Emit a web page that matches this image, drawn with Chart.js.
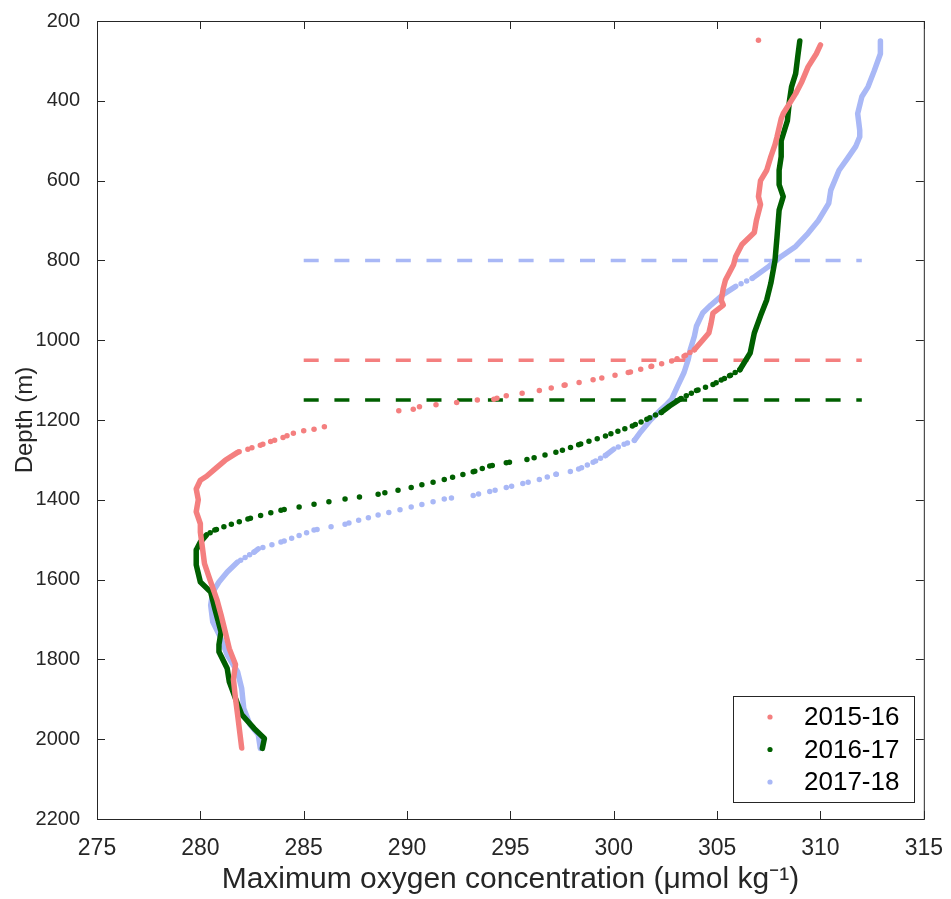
<!DOCTYPE html>
<html>
<head>
<meta charset="utf-8">
<script src="https://cdn.jsdelivr.net/npm/chart.js@4.4.1/dist/chart.umd.min.js"></script>
<style>
  html, body { margin: 0; padding: 0; background: #fff; }
  #wrap { width: 951px; height: 899px; }
</style>
</head>
<body>
<div id="wrap"><canvas id="myChart" width="951" height="899"></canvas></div>
<script>
// depth (m) and max oxygen (umol/kg); null oxygen = gap in the profile
let seasons = ['2015-16', '2016-17', '2017-18'];
let colorHex = ['#f47f7f', '#005f00', '#a9b8f6'];

let depth1516 = [248, 253, 255, 260, 282, 315, 352, 382, 407, 432, 445, 490, 510, 540, 574, 600, 640, 660, 700, 730, 740, 760, 790, 810, 850, 870, 900, 912, 932, 960, 982, 1000, 1024, 1040, 1052, 1066, 1081, 1099, 1113, 1126, 1139, 1148, 1150, 1156, 1162, 1167, 1173, 1177, 1183, 1200, 1217, 1223, 1227, 1233, 1244, 1254, 1263, 1273, 1281, 1301, 1323, 1341, 1351, 1373, 1400, 1430, 1460, 1481, 1520, 1560, 1606, 1650, 1688, 1730, 1773, 1813, 1850, 1898, 1938, 1980, 2022];
let oxy1516 = [307.0, 307.2, null, 310.0, 309.8, 309.4, 309.1, 308.8, 308.5, 308.2, 308.1, 307.9, 307.8, 307.6, 307.4, 307.1, 307.0, 307.1, 306.9, 306.8, 306.6, 306.2, 305.9, 305.8, 305.4, 305.3, 305.2, 305.3, 304.8, 304.7, 304.6, 304.3, 303.9, 303.4, 302.8, 301.8, 300.7, 299.0, 297.6, 296.4, 294.8, 294.2, 293.4, 292.4, 291.4, 290.6, 290.3, 289.6, 288.9, null, 286.0, 285.5, 285.0, 284.5, 284.0, 283.4, 282.9, 282.3, 281.8, 281.2, 280.7, 280.3, 280.0, 279.8, 279.9, 279.8, 280.0, 280.0, 280.1, 280.2, 280.5, 280.8, 281.0, 281.2, 281.4, 281.7, 281.6, 281.7, 281.8, 281.9, 282.0];

let depth1617 = [250, 290, 332, 365, 400, 450, 500, 540, 574, 610, 640, 674, 740, 800, 857, 899, 939, 982, 1007, 1032, 1057, 1074, 1089, 1100, 1111, 1126, 1148, 1165, 1181, 1198, 1215, 1228, 1240, 1262, 1281, 1299, 1307, 1315, 1330, 1349, 1369, 1386, 1398, 1411, 1426, 1448, 1461, 1476, 1488, 1506, 1526, 1563, 1606, 1631, 1673, 1731, 1763, 1781, 1823, 1856, 1898, 1938, 1973, 1998, 2023];
let oxy1617 = [309.0, 308.9, 308.8, 308.6, 308.5, 308.4, 308.1, 308.1, 308.0, 308.0, 308.2, 308.0, 307.9, 307.8, 307.6, 307.4, 307.1, 306.8, 306.7, 306.6, 306.3, 306.1, 305.6, 305.2, 304.8, 304.0, 303.2, 302.7, 302.3, 301.6, 300.9, 300.2, 299.6, 298.3, 297.2, 295.8, 294.8, 294.0, 293.2, 291.8, 290.2, 288.6, 287.0, 285.5, 283.9, 282.3, 281.5, 280.7, 280.3, 280.0, 279.8, 279.8, 280.0, 280.5, 280.7, 281.0, 280.9, 280.9, 281.3, 281.4, 281.7, 282.0, 282.6, 283.1, 283.0];

let depth1718 = [250, 282, 325, 365, 390, 432, 474, 490, 515, 545, 574, 624, 657, 700, 732, 765, 790, 815, 845, 865, 885, 912, 932, 965, 990, 1024, 1049, 1081, 1114, 1148, 1164, 1173, 1199, 1230, 1251, 1261, 1273, 1289, 1306, 1323, 1329, 1336, 1349, 1359, 1369, 1379, 1389, 1398, 1418, 1438, 1461, 1476, 1506, 1523, 1531, 1556, 1581, 1606, 1631, 1664, 1706, 1748, 1789, 1831, 1873, 1923, 1963, 1988, 2023];
let oxy1718 = [312.9, 312.9, 312.6, 312.3, 312.0, 311.8, 311.9, 311.9, 311.7, 311.3, 310.9, 310.5, 310.4, 309.9, 309.4, 308.8, 308.1, 307.5, 306.7, 305.9, 305.3, 304.7, 304.3, 304.0, 303.9, 303.7, 303.6, 303.4, 303.1, 302.8, 302.5, 302.3, 301.8, 301.3, 301.0, 300.5, 300.0, 299.6, 299.0, 298.3, 297.9, 297.2, 296.4, 295.6, 294.8, 294.0, 293.2, 291.8, 290.2, 288.6, 287.0, 285.5, 283.9, 282.8, 282.6, 281.8, 281.3, 280.9, 280.6, 280.5, 280.6, 281.0, 281.3, 281.8, 282.0, 282.1, 282.4, 282.8, 282.9];

// threshold depths drawn as dashed lines
let cutDepths = [1050, 1150, 800];
let cutRange = [285, 312];

let xTicks = [275, 280, 285, 290, 295, 300, 305, 310, 315];
let yTicks = [200, 400, 600, 800, 1000, 1200, 1400, 1600, 1800, 2000, 2200];

const axisColor = '#262626';
const narrow = '"Liberation Sans Narrow", "Liberation Sans", Arial, sans-serif';
const sans = '"Liberation Sans", Arial, sans-serif';

function toPoints(depths, oxy) {
  return depths.map((d, i) => ({ x: oxy[i], y: d }));
}

// profiles are sampled every few metres, so dots get spread out where the curve goes flat
function dotDash(ctx) {
  let dx = ctx.p1.x - ctx.p0.x;
  let dy = ctx.p1.y - ctx.p0.y;
  let len = Math.hypot(dx, dy);
  let gap = 2.7 * len / Math.max(Math.abs(dy), 0.01);
  if (gap < 5) return undefined;
  return [0, gap];
}

function profile(label, depths, oxy, color) {
  return {
    label: label,
    data: toPoints(depths, oxy),
    showLine: true,
    borderColor: color,
    backgroundColor: color,
    borderWidth: 5.5,
    borderCapStyle: 'round',
    borderJoinStyle: 'round',
    pointRadius: 0,
    spanGaps: false,
    segment: { borderDash: dotDash }
  };
}

function cutLine(depth, color) {
  return {
    label: 'cut ' + depth,
    data: [{ x: cutRange[0], y: depth }, { x: cutRange[1], y: depth }],
    showLine: true,
    borderColor: color,
    borderWidth: 3.5,
    borderDash: [15, 15.7],
    pointRadius: 0
  };
}

// MATLAB-like box with inward ticks on all four sides
const boxPlugin = {
  id: 'box',
  afterDatasetsDraw(chart) {
    let c = chart.ctx, a = chart.chartArea;
    let xs = chart.scales.x, ys = chart.scales.y;
    c.save();
    c.strokeStyle = axisColor;
    c.lineWidth = 1;
    c.strokeRect(a.left + 0.5, a.top + 0.5, a.right - a.left, a.bottom - a.top);
    c.beginPath();
    xTicks.forEach(v => {
      let px = Math.round(xs.getPixelForValue(v)) + 0.5;
      c.moveTo(px, a.bottom); c.lineTo(px, a.bottom - 8);
      c.moveTo(px, a.top); c.lineTo(px, a.top + 8);
    });
    yTicks.forEach(v => {
      let py = Math.round(ys.getPixelForValue(v)) + 0.5;
      c.moveTo(a.left, py); c.lineTo(a.left + 8, py);
      c.moveTo(a.right, py); c.lineTo(a.right - 8, py);
    });
    c.stroke();
    c.restore();
  },
  afterDraw(chart) {
    // legend box in the lower right corner
    let c = chart.ctx;
    let bx = 733, by = 696, bw = 181, bh = 106;
    c.save();
    c.fillStyle = '#fff';
    c.fillRect(bx, by, bw, bh);
    c.strokeStyle = axisColor;
    c.lineWidth = 1;
    c.strokeRect(bx + 0.5, by + 0.5, bw, bh);
    c.font = '26px ' + sans;
    c.textBaseline = 'middle';
    seasons.forEach((s, i) => {
      let y = by + 21 + i * 32.5;
      c.fillStyle = colorHex[i];
      c.beginPath();
      c.arc(bx + 37, y, 2.6, 0, Math.PI * 2);
      c.fill();
      c.fillStyle = '#000';
      c.fillText(s, bx + 71, y + 1);
    });
    c.restore();
  }
};

let ctx = document.getElementById('myChart').getContext('2d');

let myChart = new Chart(ctx, {
  type: 'scatter',
  data: {
    datasets: [
      profile(seasons[0], depth1516, oxy1516, colorHex[0]),
      profile(seasons[1], depth1617, oxy1617, colorHex[1]),
      profile(seasons[2], depth1718, oxy1718, colorHex[2]),
      cutLine(cutDepths[0], colorHex[0]),
      cutLine(cutDepths[1], colorHex[1]),
      cutLine(cutDepths[2], colorHex[2])
    ]
  },
  options: {
    responsive: false,
    animation: false,
    layout: { padding: { top: 17, right: 17, left: 0, bottom: 0 } },
    plugins: {
      legend: { display: false },
      tooltip: { enabled: false }
    },
    scales: {
      x: {
        type: 'linear',
        min: 275,
        max: 315,
        afterFit: (scale) => { scale.height = 80; },
        afterBuildTicks: (scale) => { scale.ticks = xTicks.map(v => ({ value: v })); },
        grid: { display: false },
        border: { display: false },
        ticks: {
          color: axisColor,
          padding: 8,
          maxRotation: 0,
          font: { family: narrow, size: 23 },
          callback: (v) => String(v)
        },
        title: {
          display: true,
          text: 'Maximum oxygen concentration (\u03bcmol kg\u207b\u00b9)',
          color: axisColor,
          font: { family: narrow, size: 30 },
          padding: { top: 0, bottom: 1 }
        }
      },
      y: {
        type: 'linear',
        reverse: true,
        min: 200,
        max: 2200,
        afterFit: (scale) => { scale.width = 97; },
        afterBuildTicks: (scale) => { scale.ticks = yTicks.map(v => ({ value: v })); },
        grid: { display: false },
        border: { display: false },
        ticks: {
          color: axisColor,
          padding: 9,
          font: { family: sans, size: 20 },
          callback: (v) => String(v)
        },
        title: {
          display: true,
          text: 'Depth (m)',
          color: axisColor,
          font: { family: sans, size: 24 },
          padding: { top: 11, bottom: 0 }
        }
      }
    }
  },
  plugins: [boxPlugin]
});
</script>
</body>
</html>
